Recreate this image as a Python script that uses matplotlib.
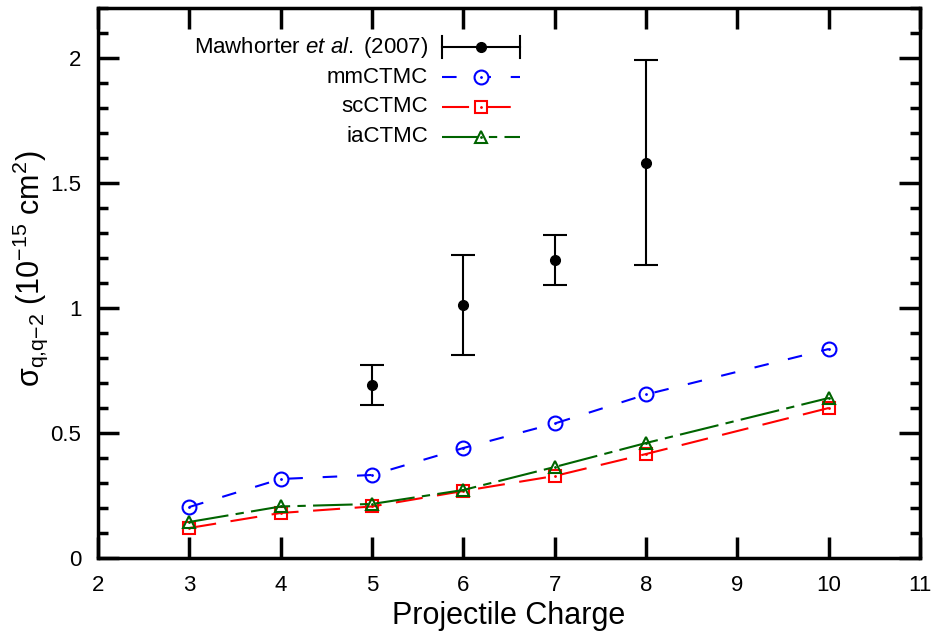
import numpy as np
import matplotlib
matplotlib.use("Agg")
import matplotlib.pyplot as plt
from matplotlib.ticker import MultipleLocator, FuncFormatter

plt.rcParams['font.family'] = ['Liberation Sans', 'DejaVu Sans']
plt.rcParams['mathtext.fontset'] = 'custom'
plt.rcParams['mathtext.rm'] = 'Liberation Sans'
plt.rcParams['mathtext.it'] = 'Liberation Sans:italic'
plt.rcParams['mathtext.sf'] = 'Liberation Sans'

# experiment (Mawhorter et al. 2007)
exp_q = [5, 6, 7, 8]
exp_sigma = [0.69, 1.01, 1.19, 1.58]
exp_lo = [0.61, 0.81, 1.09, 1.17]
exp_hi = [0.77, 1.21, 1.29, 1.99]

# CTMC calculations
q = [3, 4, 5, 6, 7, 8, 10]
mm_ctmc = [0.204, 0.316, 0.332, 0.44, 0.538, 0.654, 0.836]
sc_ctmc = [0.12, 0.18, 0.206, 0.268, 0.328, 0.416, 0.60]
ia_ctmc = [0.144, 0.206, 0.216, 0.272, 0.364, 0.46, 0.64]

fig = plt.figure(figsize=(9.38, 6.35), dpi=100)
ax = fig.add_axes([0.1045, 0.1213, 0.8765, 0.8661])

green = '#006400'
series = [
    ("mmCTMC", mm_ctmc, 'blue', 'o', 10, (0, (7, 9.5))),
    ("scCTMC", sc_ctmc, 'red', 's', 8.5, (0, (13, 7))),
    ("iaCTMC", ia_ctmc, green, '^', 8.5, (0, (19, 3.5, 4, 3.5))),
]

for name, vals, col, mk, ms, ls in series:
    ax.plot(q, vals, color=col, lw=1.5, ls=ls, marker=mk, ms=ms,
            mfc='none', mec=col, mew=1.5)
    ax.plot(q, vals, ls='none', marker='.', ms=2, color=col)

yerr = [np.array(exp_sigma) - np.array(exp_lo), np.array(exp_hi) - np.array(exp_sigma)]
ax.errorbar(exp_q, exp_sigma, yerr=yerr, fmt='o', color='black', ms=7,
            capsize=8.5, elinewidth=1.5, capthick=1.5)

# legend, gnuplot style (text right, key on the right)
rows = [0.929, 0.8745, 0.82, 0.7655]
tx, x0, x1, xm = 0.4015, 0.4185, 0.5134, 0.466
labels = [r"Mawhorter $\mathit{et\ al.}$ (2007)", "mmCTMC", "scCTMC", "iaCTMC"]
for y, lab in zip(rows, labels):
    ax.text(tx, y, lab, transform=ax.transAxes, ha='right', va='center', fontsize=16)
ax.plot([x0, x1], [rows[0]] * 2, color='black', lw=1.5, transform=ax.transAxes)
for xe in (x0, x1):
    ax.plot([xe, xe], [rows[0] - 0.02, rows[0] + 0.02], color='black', lw=1.5,
            transform=ax.transAxes)
ax.plot([xm], [rows[0]], 'o', color='black', ms=7, transform=ax.transAxes)
for y, (name, vals, col, mk, ms, ls) in zip(rows[1:], series):
    ax.plot([x0, x1], [y, y], color=col, lw=1.5, ls=ls, transform=ax.transAxes)
    ax.plot([xm], [y], marker=mk, ms=ms, mfc='white', mec=col, mew=1.5,
            transform=ax.transAxes)
    ax.plot([xm], [y], marker='.', ms=2, color=col, transform=ax.transAxes)

ax.set_xlim(2, 11)
ax.set_ylim(0, 2.2)
ax.xaxis.set_major_locator(MultipleLocator(1))
ax.yaxis.set_major_locator(MultipleLocator(0.5))
ax.yaxis.set_minor_locator(MultipleLocator(0.1))
ax.yaxis.set_major_formatter(FuncFormatter(lambda v, p: f"{v:g}"))
ax.tick_params(which='both', direction='in', top=True, right=True, width=2.5,
               labelsize=16, pad=12)
ax.tick_params(which='major', length=15)
ax.tick_params(which='minor', length=7.5)
for s in ax.spines.values():
    s.set_linewidth(2.5)

ax.set_xlabel("Projectile Charge", fontsize=22, labelpad=4)
ax.set_ylabel(r"$\mathrm{\sigma_{q{,}q{-}2}}$ (10$^{-15}$ cm$^{2}$)", fontsize=22)
ax.yaxis.set_label_coords(-0.058, 0.525)

fig.savefig("out.png", dpi=100)
